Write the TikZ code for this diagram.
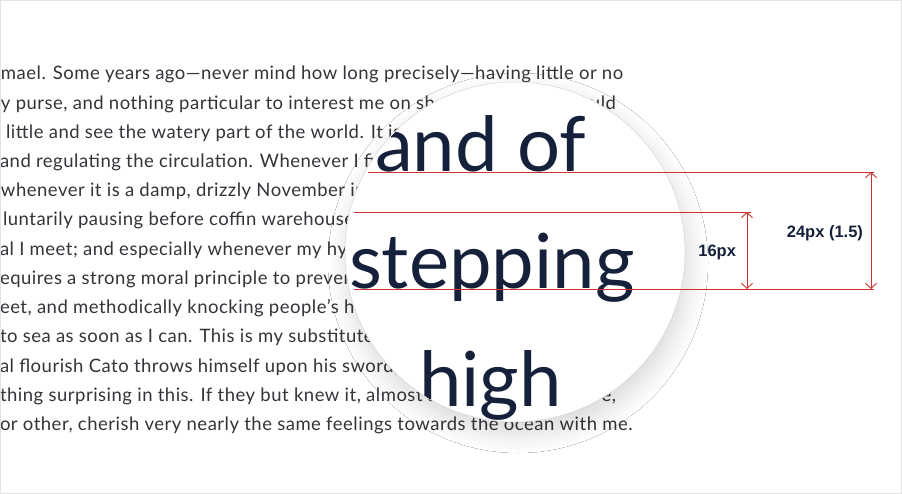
\documentclass[tikz,border=0pt]{standalone}
\usepackage{fontspec}
\setmainfont{Lato}
\newfontfamily\bodyfont{Lato}[LetterSpace=2.7]
\newfontfamily\labfont{Liberation Sans}
\usetikzlibrary{arrows.meta,shadows.blur}
\definecolor{bodytext}{HTML}{34343A}
\definecolor{navy}{HTML}{15213B}
\definecolor{redline}{HTML}{D0312D}
\definecolor{framegray}{HTML}{E3E3E3}
\definecolor{ringgray}{HTML}{D6D6DA}
\tikzset{
  body/.style={anchor=base west, inner sep=0pt, outer sep=0pt, text=bodytext, font=\bodyfont\fontsize{18.5}{22}\selectfont},
  bodyr/.style={body, anchor=base east},
  big/.style={anchor=base west, inner sep=0pt, outer sep=0pt, text=navy, font=\fontsize{76}{90}\selectfont},
  guide/.style={draw=redline, line width=0.9pt},
  dimarrow/.style={draw=redline, line width=0.9pt, {Straight Barb[length=5pt,width=11pt]}-{Straight Barb[length=5pt,width=11pt]}},
  dimlabel/.style={anchor=base east, inner sep=0pt, outer sep=0pt, text=navy, font=\labfont\bfseries\fontsize{16.5}{18}\selectfont},
  lens/.style={fill=white, draw=ringgray, line width=0.5pt,
    blur shadow={shadow xshift=3pt, shadow yshift=-11pt, shadow blur radius=20pt, shadow blur steps=14, shadow opacity=16}},
}
\begin{document}
\begin{tikzpicture}[x=1pt,y=-1pt]
  \useasboundingbox (0,0) rectangle (902,494);
  \clip (0,0) rectangle (902,494);
  \fill[white] (0,0) rectangle (902,494);

  % body paragraph
  \node[body] (l1)  at (1,80)    {mael. Some years ago—never mind how long precisely—having little or no};
  \node[body] (l2)  at (1,109.2) {y purse, and nothing particular to interest me on sh};
  \node[bodyr] (l2r) at (616,109.2) {uld};
  \node[body] (l3)  at (6,138.4) {little and see the watery part of the world. It is};
  \node[body] (l4)  at (0,167.6) {and regulating the circulation. Whenever I fin};
  \node[body] (l5)  at (1,196.8) {whenever it is a damp, drizzly November in};
  \node[body] (l6)  at (3,226)   {luntarily pausing before coffin warehouse};
  \node[body] (l7)  at (0,255.2) {al I meet; and especially whenever my hy};
  \node[body] (l8)  at (0,284.4) {equires a strong moral principle to preven};
  \node[body] (l9)  at (0,313.6) {eet, and methodically knocking people’s h};
  \node[body] (l10) at (0,342.8) {to sea as soon as I can. This is my substitute};
  \node[body] (l11) at (0,372)   {al flourish Cato throws himself upon his sword;};
  \node[body] (l12) at (0,401.2) {thing surprising in this. If they but knew it, almost al};
  \node[bodyr] (l12r) at (616,401.2) {e,};
  \node[body] (l13) at (0,430.4) {or other, cherish very nearly the same feelings towards the ocean with me.};

  % magnifier
  \path[lens] (515,252) circle[radius=170];
  \begin{scope}
    \clip (515,252) circle[radius=169.5];
    \node[big] (w1) at (375,172) {and of};
    \node[big] (w2) at (349,289) {stepping};
    \node[big] (w3) at (419,406) {high};
  \end{scope}

  % guide lines
  \coordinate (t1) at (368,172);  \coordinate (t2) at (874,172);
  \coordinate (m1) at (354,212);  \coordinate (m2) at (751,212);
  \coordinate (b1) at (354,289);  \coordinate (b2) at (874,289);
  \draw[guide] (t1) -- (t2);
  \draw[guide] (m1) -- (m2);
  \draw[guide] (b1) -- (b2);

  % dimensions
  \coordinate (d16t) at (747,212); \coordinate (d16b) at (747,289);
  \coordinate (d24t) at (871,172); \coordinate (d24b) at (871,289);
  \draw[dimarrow] (d16t) -- (d16b);
  \draw[dimarrow] (d24t) -- (d24b);
  \node[dimlabel] (lab16) at (736,257) {16px};
  \node[dimlabel] (lab24) at (863,238) {24px (1.5)};

  % frame
  \draw[framegray, line width=1pt] (0.5,0.5) rectangle (901.5,493.5);
\end{tikzpicture}
\end{document}
